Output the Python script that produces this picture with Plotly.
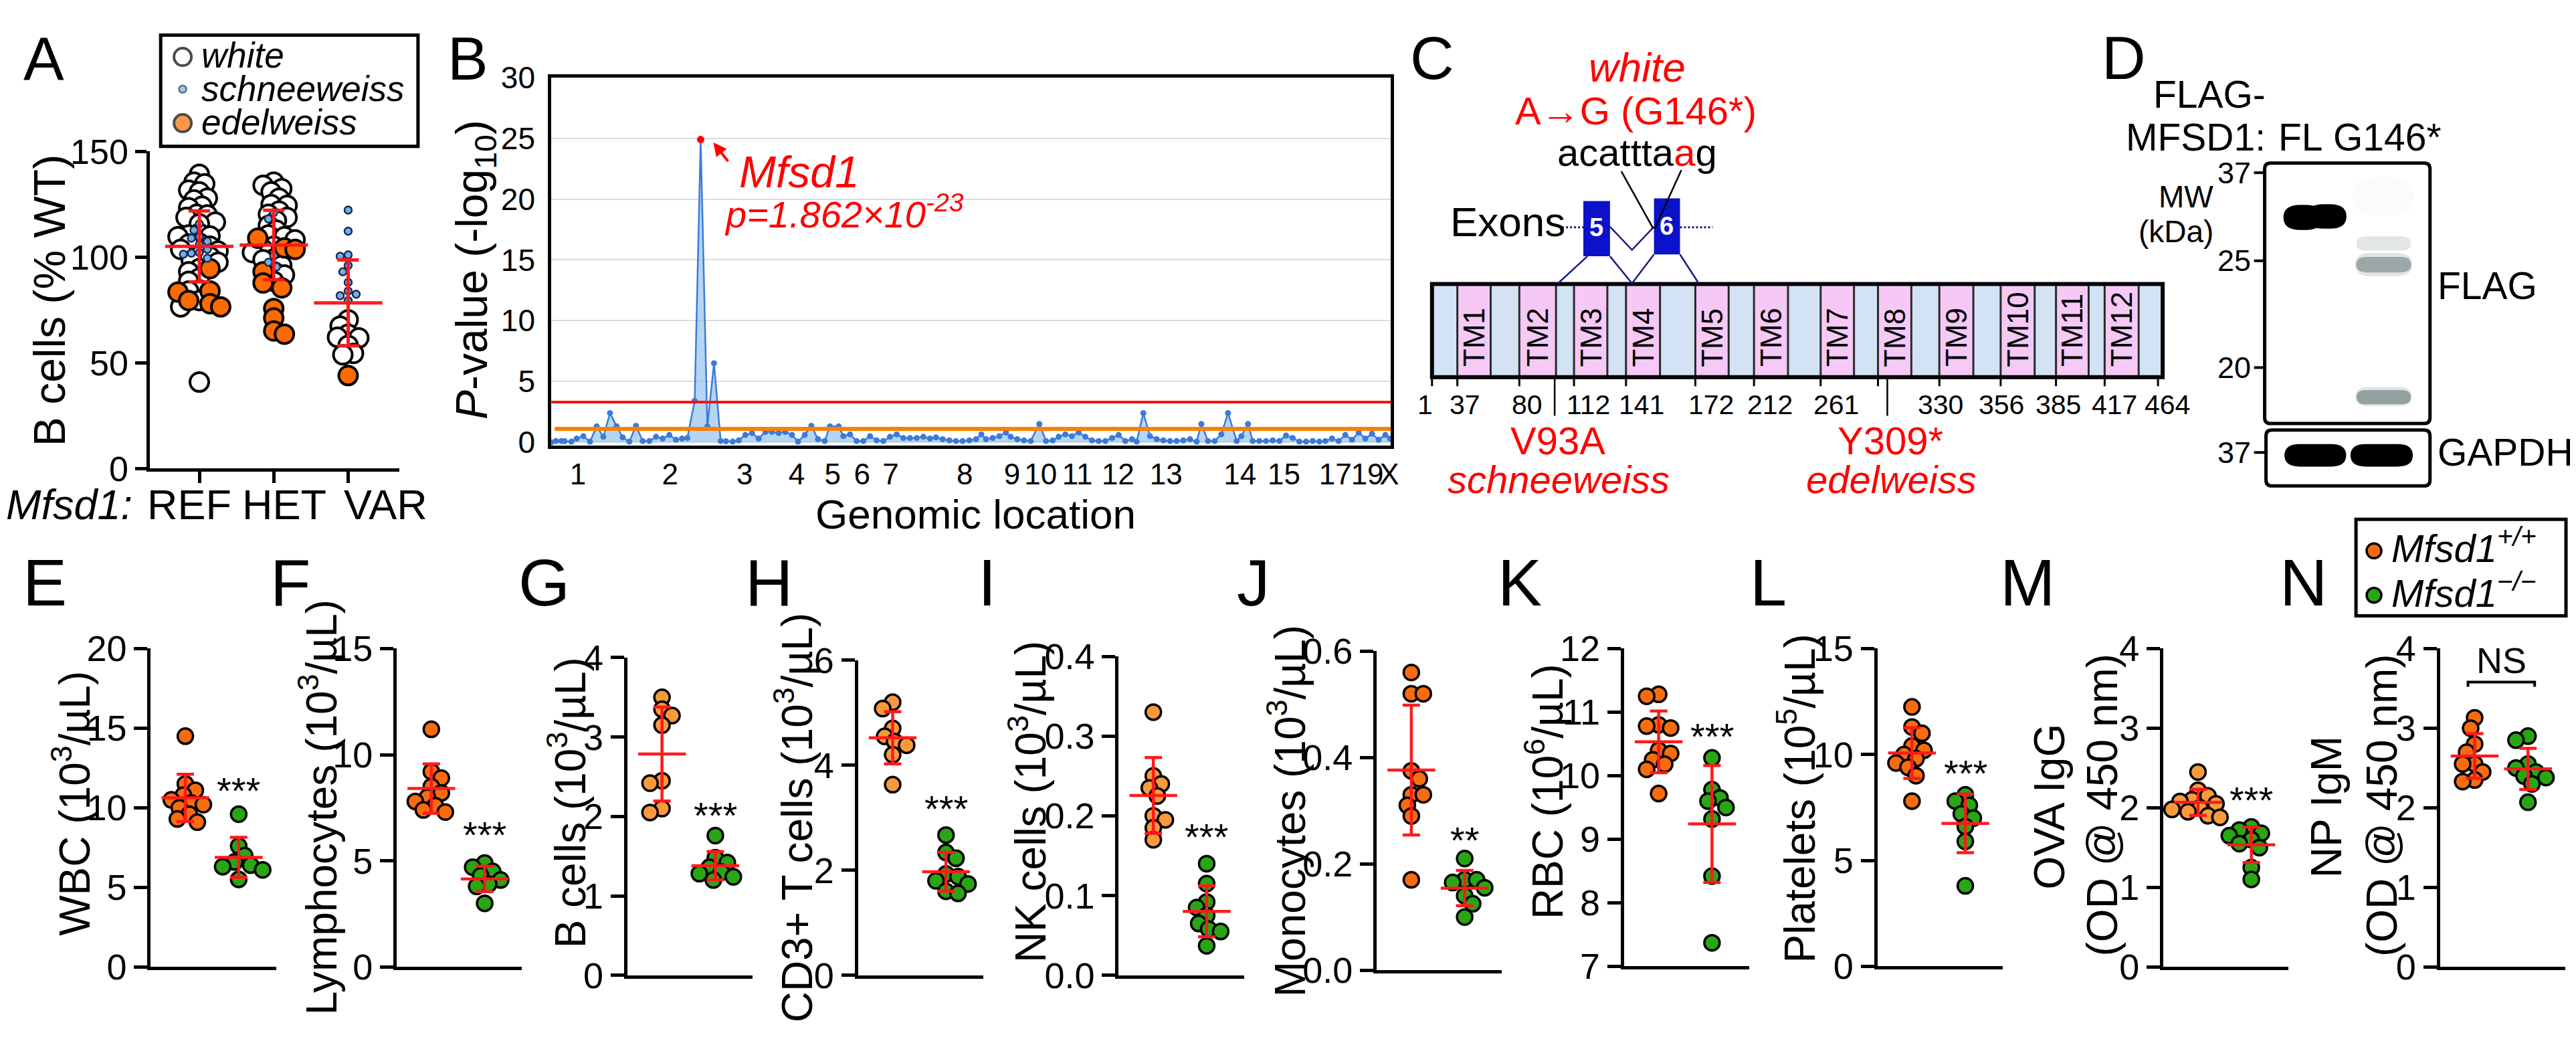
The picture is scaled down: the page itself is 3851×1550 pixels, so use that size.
import numpy as np
import plotly.graph_objects as go

W, H = 3851, 1550
FONT = "Liberation Sans, Arial, Helvetica, sans-serif"
NARROW = "Liberation Sans Narrow, Arial Narrow, Liberation Sans, Arial, sans-serif"
RED = "#FF1A1A"
GREEN = "#29A614"
ORANGE_DARK = "#F86C0E"
ORANGE_LIGHT = "#F89A3C"
ORANGE_A = "#FF6A00"
BLUE_A = "#6DB0F0"
BLUE_B = "#3B7BD8"
NAVY = "#1B1B8C"

# ======================= DATA =======================
# ---- Panel A : B cells (% WT) by Mfsd1 genotype ----
a_genotypes = ["REF", "HET", "VAR"]
a_white = {
    "REF": [139.2, 135.5, 134.7, 131.7, 130.9, 127.9, 127.1, 124.1, 123.4, 120.3, 120.0, 118.8,
            116.6, 115.8, 111.3, 110.5, 110.0, 109.7, 106.7, 106.2, 105.2, 103.7, 102.9, 100.7,
            100.2, 98.4, 97.6, 94.6, 93.1, 90.1, 88.6, 84.5, 84.0, 79.5, 76.5, 40.9],
    "HET": [135.5, 134.0, 132.4, 130.9, 127.9, 124.9, 124.5, 121.8, 120.3, 118.8, 117.3, 115.0,
            112.8, 110.5, 109.7, 108.2, 105.2, 103.7, 102.2, 99.2, 98.8, 96.1, 93.1, 91.6, 88.6],
    "VAR": [70.4, 67.4, 63.6, 62.1, 61.8, 58.3, 54.5, 53.8],
}
a_schneeweiss = {
    "REF": [115.8, 112.8, 109.7, 109.0, 107.5, 106.0, 103.7, 102.2, 101.9, 101.4, 99.5],
    "HET": [121.1, 118.1, 100.7, 97.6, 95.4],
    "VAR": [122.3, 112.3, 101.1, 100.4, 96.1, 93.1, 88.1, 84.0, 82.5, 81.8, 79.5],
}
a_edelweiss = {
    "REF": [94.6, 84.0, 83.5, 79.5, 78.0, 76.5],
    "HET": [109.0, 104.4, 103.7, 93.1, 87.8, 85.5, 75.7, 71.2, 65.1, 63.6],
    "VAR": [44.0],
}
a_mean = [105.1, 105.75, 78.35]
a_sd = [16.8, 16.45, 20.35]

# ---- Panel B : linkage scan (marker position, -log10 P) ----
b_markers = [
    (0, 0.0), (7, 0.1), (15, 0.1), (20, 0.08), (30, 0.05), (38, 0.3), (48, 0.5), (58, 0.05),
    (68, 1.3), (78, 0.45), (88, 2.4), (98, 1.3), (107, 0.4), (117, 0.05), (127, 1.35), (137, 0.1),
    (147, 0.1), (157, 0.45), (167, 0.3), (177, 0.6), (187, 0.2), (196, 0.3), (204, 0.35),
    (215, 3.4), (224, 24.9), (234, 1.3), (244, 6.5), (254, 0.1), (262, 0.08), (272, 0.05),
    (281, 0.15), (291, 0.6), (301, 0.75), (311, 0.3), (321, 0.85), (331, 0.85), (341, 0.75),
    (351, 0.85), (361, 0.6), (370, 0.05), (380, 0.6), (390, 1.35), (400, 0.25), (410, 0.1),
    (418, 1.3), (431, 1.3), (438, 0.5), (448, 0.65), (458, 0.1), (468, 0.1), (478, 0.5),
    (488, 0.15), (498, 0.1), (508, 0.45), (518, 0.65), (528, 0.35), (538, 0.35), (548, 0.35),
    (558, 0.45), (568, 0.3), (577, 0.4), (587, 0.25), (597, 0.15), (607, 0.1), (617, 0.1),
    (627, 0.15), (637, 0.25), (645, 0.65), (652, 0.25), (662, 0.35), (672, 0.5), (682, 0.8),
    (689, 0.45), (699, 0.25), (709, 0.15), (719, 0.1), (732, 1.5), (742, 0.1), (752, 0.15),
    (761, 0.45), (771, 0.65), (781, 0.5), (791, 0.8), (801, 0.45), (811, 0.15), (821, 0.1),
    (831, 0.1), (841, 0.35), (851, 0.6), (861, 0.1), (871, 0.25), (878, 0.05), (888, 2.4),
    (898, 0.5), (908, 0.25), (918, 0.15), (928, 0.1), (938, 0.1), (948, 0.15), (958, 0.25),
    (968, 0.05), (975, 1.5), (985, 0.1), (995, 0.1), (1005, 0.65), (1015, 2.4), (1028, 0.1),
    (1035, 0.5), (1045, 1.5), (1052, 0.1), (1062, 0.1), (1072, 0.1), (1082, 0.15), (1092, 0.1),
    (1102, 0.55), (1112, 0.35), (1122, 0.05), (1132, 0.05), (1142, 0.1), (1152, 0.05),
    (1161, 0.1), (1171, 0.3), (1181, 0.1), (1191, 0.6), (1201, 0.2), (1211, 0.8), (1221, 0.3),
    (1231, 0.7), (1241, 0.2), (1251, 0.6), (1258, 0.3),
]
b_pos = [p for p, _ in b_markers]
b_logp = [v for _, v in b_markers]
b_chrom_labels = ["1", "2", "3", "4", "5", "6", "7", "8", "9", "10", "11", "12", "13", "14", "15", "17", "19", "X"]
b_chrom_pos = [40, 178, 290, 368, 422, 466, 509, 620, 691, 734, 789, 850, 922, 1033, 1099, 1176, 1224, 1257]
b_yticks = [0, 5, 10, 15, 20, 25, 30]
b_significant = 3.3
b_suggestive = 1.1

# ---- Panel C : MFSD1 topology (schematic units along the bar) ----
c_tm_names = ["TM%d" % i for i in range(1, 13)]
c_tm_start = [38, 131, 213, 291, 395, 483, 583, 669, 761, 853, 936, 1009]
c_tm_end = [88, 186, 263, 342, 445, 534, 633, 719, 812, 904, 985, 1060]
c_bar_len = 1096
c_residues = [1, 37, 80, 112, 141, 172, 212, 261, 330, 356, 385, 417, 464]
c_residue_tick = [0, 38, 131, 213, 291, 395, 483, 583, 761, 853, 936, 1009, 1089]
c_residue_label = [-10, 49, 143, 235, 314, 419, 507, 606, 763, 854, 939, 1024, 1103]
c_extra_tick = [669]
c_mut_names = ["V93A", "Y309*"]
c_mut_alleles = ["schneeweiss", "edelweiss"]
c_mut_pos = [184, 683]

# ---- Panel D : western blot ----
d_lanes = ["FL", "G146*"]
d_mw = ["37", "25", "20"]
d_gapdh_mw = ["37"]

# ---- Panels E-N : Mfsd1+/+ (orange) vs Mfsd1-/- (green) ----
E_o = [14.5, 11.5, 11.1, 10.8, 10.5, 10.3, 10.2, 10.0, 9.6, 9.3, 9.1]
E_g = [9.6, 7.6, 7.0, 6.6, 6.4, 6.3, 6.1, 5.5]
F_o = [11.2, 9.2, 8.9, 8.5, 8.2, 8.0, 7.8, 7.6, 7.4, 7.3]
F_g = [4.9, 4.7, 4.5, 4.3, 4.1, 3.9, 3.8, 3.0]
G_o = [3.5, 3.35, 3.27, 3.15, 2.45, 2.42, 2.1, 2.05]
G_g = [1.76, 1.48, 1.42, 1.36, 1.3, 1.28, 1.24, 1.2]
H_o = [5.2, 5.08, 4.7, 4.55, 4.45, 4.38, 4.2, 3.63]
H_g = [2.67, 2.34, 2.23, 1.93, 1.88, 1.8, 1.74, 1.6, 1.56]
I_o = [0.33, 0.25, 0.24, 0.235, 0.225, 0.2, 0.195, 0.185, 0.17]
I_g = [0.14, 0.115, 0.092, 0.085, 0.075, 0.065, 0.058, 0.055, 0.037]
J_o = [0.56, 0.52, 0.52, 0.375, 0.36, 0.33, 0.33, 0.31, 0.29, 0.17]
J_g = [0.21, 0.17, 0.17, 0.165, 0.155, 0.14, 0.125, 0.1]
K_o = [11.28, 11.25, 10.8, 10.78, 10.75, 10.4, 10.35, 10.25, 10.18, 10.1, 9.72]
K_g = [10.28, 9.78, 9.65, 9.6, 9.5, 9.32, 8.42, 7.37]
L_o = [12.25, 11.3, 11.0, 10.4, 10.2, 10.0, 9.8, 9.6, 9.4, 9.0, 7.8]
L_g = [8.1, 7.8, 7.6, 7.2, 7.0, 6.6, 5.9, 3.8]
M_o = [2.45, 2.22, 2.15, 2.1, 2.08, 2.05, 2.0, 1.98, 1.95, 1.9, 1.88]
M_g = [1.76, 1.72, 1.68, 1.65, 1.6, 1.55, 1.5, 1.25, 1.1]
N_o = [3.13, 3.0, 2.8, 2.7, 2.55, 2.55, 2.45, 2.35, 2.33]
N_g = [2.9, 2.85, 2.55, 2.5, 2.45, 2.4, 2.38, 2.3, 2.07]
sig_labels = ["***", "***", "***", "***", "***", "**", "***", "***", "***", "NS"]
sig_y = [11.6, 6.6, 2.12, 3.33, 0.184, 0.26, 10.75, 9.5, 2.2, 3.85]

# ======================= FIGURE =======================
fig = go.Figure()
layout = dict(width=W, height=H, margin=dict(l=0, r=0, t=0, b=0), paper_bgcolor="white",
              plot_bgcolor="rgba(0,0,0,0)", showlegend=False,
              font=dict(family=FONT, color="black"))
ann, shp = [], []
axn = [0]


def axes(x0, x1, ytop, ybot, xrange, yrange, xkw=None, ykw=None):
    axn[0] += 1
    n = axn[0]
    s = "" if n == 1 else str(n)
    base = dict(showgrid=False, zeroline=False, fixedrange=True, showline=False,
                ticks="", showticklabels=False)
    xa = dict(base, domain=[x0 / W, x1 / W], range=xrange, anchor="y" + s)
    ya = dict(base, domain=[1 - ybot / H, 1 - ytop / H], range=yrange, anchor="x" + s)
    if xkw:
        xa.update(xkw)
    if ykw:
        ya.update(ykw)
    layout["xaxis" + s] = xa
    layout["yaxis" + s] = ya
    return "x" + s, "y" + s


def txt(x, y, s, size, color="black", xa="center", ya="middle", angle=0, family=FONT):
    ann.append(dict(xref="paper", yref="paper", x=x / W, y=1 - y / H, text=s, showarrow=False,
                    font=dict(family=family, size=size, color=color), xanchor=xa, yanchor=ya,
                    textangle=angle, borderpad=0))


def swarm_offsets(vals, ppu_y, sep, step):
    idx = sorted(range(len(vals)), key=lambda i: -vals[i])
    placed, out = [], [0.0] * len(vals)
    for n, i in enumerate(idx):
        y = vals[i] * ppu_y
        k, chosen = 0, None
        while chosen is None:
            if k == 0:
                cands = [0.0]
            else:
                cands = [k * step, -k * step] if n % 2 == 0 else [-k * step, k * step]
            for c in cands:
                if all((c - px) ** 2 + (y - py) ** 2 >= sep * sep for px, py in placed):
                    chosen = c
                    break
            k += 1
        out[i] = chosen
        placed.append((chosen, y))
    return out


tickfont = lambda s, fam=FONT: dict(size=s, family=fam, color="black")

# ---------------- Panel A ----------------
A_X0, A_X1, A_TOP, A_BOT = 217, 591, 196, 689
xa_, ya_ = axes(A_X0, A_X1, A_TOP, A_BOT, [-0.663, 2.688], [0, 150],
                xkw=dict(showline=True, linewidth=5, linecolor="black", ticks="outside", ticklen=17,
                         tickwidth=5, tickcolor="black", tickvals=[0, 1, 2]),
                ykw=dict(showline=True, linewidth=5, linecolor="black", ticks="outside", ticklen=17,
                         tickwidth=5, tickcolor="black", tickvals=[0, 50, 100, 150],
                         showticklabels=True, tickfont=tickfont(52)))
a_ppu_y = (A_BOT - A_TOP) / 150.0
a_ppu_x = (A_X1 - A_X0) / (2.688 + 0.663)
for gi, g in enumerate(a_genotypes):
    comb = a_white[g] + a_edelweiss[g]
    offs = swarm_offsets(comb, a_ppu_y, 14, 4)
    nw = len(a_white[g])
    fig.add_trace(go.Scatter(x=[gi + o / a_ppu_x for o in offs[:nw]], y=a_white[g], mode="markers",
                             marker=dict(size=28, color="white", line=dict(color="black", width=4)),
                             xaxis=xa_, yaxis=ya_, hoverinfo="skip"))
    fig.add_trace(go.Scatter(x=[gi + o / a_ppu_x for o in offs[nw:]], y=a_edelweiss[g], mode="markers",
                             marker=dict(size=28, color=ORANGE_A, line=dict(color="black", width=4)),
                             xaxis=xa_, yaxis=ya_, hoverinfo="skip"))
for gi, g in enumerate(a_genotypes):
    offs = swarm_offsets(a_schneeweiss[g], a_ppu_y, 12, 4)
    fig.add_trace(go.Scatter(x=[gi + o / a_ppu_x for o in offs], y=a_schneeweiss[g], mode="markers",
                             marker=dict(size=11, color=BLUE_A, line=dict(color="#1c2a4a", width=2.5)),
                             xaxis=xa_, yaxis=ya_, hoverinfo="skip"))
fig.add_trace(go.Scatter(x=[0, 1, 2], y=a_mean, mode="markers",
                         marker=dict(symbol="line-ew", size=73, color=RED, line=dict(color=RED, width=5)),
                         error_y=dict(type="data", array=a_sd, visible=True, color=RED, thickness=5, width=16),
                         xaxis=xa_, yaxis=ya_, hoverinfo="skip"))
txt(67, 428, "B cells (% WT)", 66, angle=-90)
txt(192, 745, "<i>Mfsd1:</i>", 63, xa="right")
for lab, cxp in zip(a_genotypes, [276, 418, 570]):
    txt(cxp, 745, lab, 63)

# ---------------- Panel B ----------------
xb, yb = axes(819, 2078, 81, 653, [0, 1259], [-0.26, 30],
              xkw=dict(showline=True, mirror=True, linewidth=5, linecolor="black",
                       tickvals=b_chrom_pos, ticktext=b_chrom_labels, showticklabels=True,
                       tickangle=0, tickfont=tickfont(44, NARROW)),
              ykw=dict(showline=True, mirror=True, linewidth=5, linecolor="black", showgrid=True,
                       gridcolor="#D6DDE0", gridwidth=2, tickvals=b_yticks, showticklabels=True,
                       tickfont=tickfont(46, NARROW), ticks="outside", ticklen=10,
                       tickcolor="rgba(0,0,0,0)"))
fig.add_trace(go.Scatter(x=b_pos, y=b_logp, mode="lines+markers", fill="tozeroy",
                         fillcolor="rgba(150,195,236,0.7)", line=dict(color=BLUE_B, width=2.5),
                         marker=dict(size=9, color=BLUE_B), xaxis=xb, yaxis=yb, hoverinfo="skip"))
ipk = int(np.argmax(b_logp))
fig.add_trace(go.Scatter(x=[b_pos[ipk]], y=[b_logp[ipk]], mode="markers",
                         marker=dict(size=11, color="#FF0000"), xaxis=xb, yaxis=yb, hoverinfo="skip"))
shp.append(dict(type="line", xref=xb + " domain", yref=yb, x0=0, x1=1, y0=b_significant, y1=b_significant,
                line=dict(color="#FF1010", width=4)))
shp.append(dict(type="line", xref=xb + " domain", yref=yb, x0=0.004, x1=1, y0=b_suggestive, y1=b_suggestive,
                line=dict(color="#FF7F00", width=6)))
txt(705, 380, "<i>P</i>-value (-log<sub>10</sub>)", 66, angle=-90)
txt(1455, 760, "Genomic location", 62)
ann.append(dict(xref="paper", yref="paper", x=1062 / W, y=1 - 182 / H, ax=25, ay=32, text=" ",
                showarrow=True, arrowhead=2, arrowsize=1, arrowwidth=4, arrowcolor="#FF0000", standoff=0))
txt(1100, 228, "<i>Mfsd1</i>", 66, color="#FF0000", xa="left")
txt(1078, 328, "<i>p=1.862×10<sup>-23</sup></i>", 56, color="#FF0000", xa="left", ya="bottom")

# ---------------- Overlay axes (pixel coordinates) for schematics ----------------
xo, yo = axes(0, W, 0, H, [0, W], [H, 0])


def rect(x0, y0, x1, y1, fill=None, lc=None, lw=0, layer="above"):
    d = dict(type="rect", xref=xo, yref=yo, x0=x0, y0=y0, x1=x1, y1=y1, layer=layer,
             line=dict(color=lc or "rgba(0,0,0,0)", width=lw))
    if fill:
        d["fillcolor"] = fill
    shp.append(d)


def line(x0, y0, x1, y1, color="black", width=2, dash=None):
    ld = dict(color=color, width=width)
    if dash:
        ld["dash"] = dash
    shp.append(dict(type="line", xref=xo, yref=yo, x0=x0, y0=y0, x1=x1, y1=y1, line=ld))


def path(d, fill=None, lc="black", lw=0, opacity=1.0):
    s = dict(type="path", xref=xo, yref=yo, path=d, line=dict(color=lc, width=lw), opacity=opacity)
    if fill:
        s["fillcolor"] = fill
    shp.append(s)


def rounded(x0, y0, x1, y1, r):
    return ("M %f,%f L %f,%f Q %f,%f %f,%f L %f,%f Q %f,%f %f,%f L %f,%f Q %f,%f %f,%f L %f,%f Q %f,%f %f,%f Z"
            % (x0 + r, y0, x1 - r, y0, x1, y0, x1, y0 + r, x1, y1 - r, x1, y1, x1 - r, y1,
               x0 + r, y1, x0, y1, x0, y1 - r, x0, y0 + r, x0, y0, x0 + r, y0))


def pill(x0, y0, x1, y1):
    r = (y1 - y0) / 2.0
    m = (y0 + y1) / 2.0
    return ("M %f,%f L %f,%f Q %f,%f %f,%f Q %f,%f %f,%f L %f,%f Q %f,%f %f,%f Q %f,%f %f,%f Z"
            % (x0 + r, y0, x1 - r, y0, x1 + r * 0.3, y0, x1 + r * 0.3, m, x1 + r * 0.3, y1, x1 - r, y1,
               x0 + r, y1, x0 - r * 0.3, y1, x0 - r * 0.3, m, x0 - r * 0.3, y0, x0 + r, y0))


# ---- Panel A legend ----
rect(233, 15, 619, 188, lc="black", lw=5)
fig.add_trace(go.Scatter(x=[266, 266, 266], y=[49, 99, 152], mode="markers",
                         marker=dict(size=[26, 11, 26], color=["white", BLUE_A, ORANGE_A],
                                     line=dict(color=["black", "#1c2a4a", "black"], width=[4, 2.5, 4])),
                         xaxis=xo, yaxis=yo, hoverinfo="skip"))
for lab, yy in zip(["white", "schneeweiss", "edelweiss"], [46, 98, 150]):
    txt(293, yy, "<i>%s</i>" % lab, 53, xa="left")

# ---- Panel C ----
C_X0, C_TOP, C_BOT = 2140, 402, 547
rect(C_X0, C_TOP, C_X0 + c_bar_len, C_BOT, fill="#D3E2F4", lc="#2a2a2a", lw=3)
for s, e, nm in zip(c_tm_start, c_tm_end, c_tm_names):
    rect(C_X0 + s, C_TOP, C_X0 + e, C_BOT, fill="#F5C8F5", lc="#2a2a2a", lw=3)
    txt(C_X0 + (s + e) / 2.0, 532, nm, 44, ya="bottom", angle=-90)
rect(C_X0, C_TOP, C_X0 + c_bar_len, C_BOT, lc="black", lw=6)
for p in c_residue_tick + c_extra_tick:
    line(C_X0 + p, C_BOT, C_X0 + p, C_BOT + 14, width=3)
for r, lp in zip(c_residues, c_residue_label):
    txt(C_X0 + lp, 590, str(r), 41, family=NARROW)
for p, nm, al in zip(c_mut_pos, c_mut_names, c_mut_alleles):
    line(C_X0 + p, C_BOT, C_X0 + p, 607, width=2.5)
    txt(C_X0 + p + 5, 645, nm, 58, color="#FF0000", family=NARROW)
    txt(C_X0 + p + 6, 706, "<i>%s</i>" % al, 58, color="#FF0000", family=NARROW)
# exons
rect(2367, 273, 2407, 359, fill="#0B12C9")
rect(2473, 269, 2512, 356, fill="#0B12C9")
txt(2387, 314, "<b>5</b>", 38, color="white")
txt(2492, 312, "<b>6</b>", 38, color="white")
line(2335, 314, 2367, 314, color=NAVY, width=3, dash="dot")
line(2512, 314, 2561, 314, color=NAVY, width=3, dash="dot")
path("M 2407,313 L 2440,349 L 2473,313", lc=NAVY, lw=2.5)
line(2373, 359, 2329, 401, color=NAVY, width=2.5)
line(2407, 359, 2440, 401, color=NAVY, width=2.5)
line(2473, 356, 2440, 401, color=NAVY, width=2.5)
line(2512, 356, 2540, 401, color=NAVY, width=2.5)
line(2424, 227, 2472, 316, color="black", width=2.5)
line(2514, 225, 2474, 316, color="black", width=2.5)
txt(2166, 305, "Exons", 62, xa="left", family=NARROW)
txt(2448, 65, "<i>white</i>", 62, color="#FF0000", family=NARROW)
txt(2446, 133, "A→G (G146*)", 58, color="#FF0000", family=NARROW)
txt(2448, 197, "acattta<span style='color:#FF0000'>a</span>g", 58, family=NARROW)

# ---- Panel D ----
path(rounded(3389, 214, 3637, 619, 9), fill="white", lc="black", lw=5)
path(rounded(3391, 629, 3637, 716, 9), fill="white", lc="black", lw=5)
path(pill(3423, 279, 3470, 318), fill="black")
path(pill(3458, 278, 3506, 316), fill="black")
for (y0, y1, col, op) in [(236, 296, "#D5DADA", 0.10), (328, 350, "#AEB8B8", 0.35),
                          (354, 390, "#B3BDBD", 0.40), (360, 384, "#7F8E8E", 0.70),
                          (562, 592, "#B3BDBD", 0.40), (567, 589, "#7B8A8A", 0.75)]:
    path(pill(3530, y0, 3605, y1), fill=col, opacity=op)
path(pill(3424, 651, 3506, 686), fill="black")
path(pill(3523, 651, 3606, 686), fill="black")
for lab, yy in zip(d_mw, [229, 366, 532]):
    line(3373, yy, 3389, yy, width=4)
    txt(3369, yy, lab, 45, xa="right")
for lab, yy in zip(d_gapdh_mw, [664]):
    line(3373, yy, 3391, yy, width=4)
    txt(3369, yy, lab, 45, xa="right")
txt(3391, 107, "FLAG-", 57, xa="right")
txt(3391, 174, "MFSD1:", 57, xa="right")
for lab, xx in zip(d_lanes, [3443, 3573]):
    txt(xx, 174, lab, 57)
txt(3313, 266, "MW", 46, xa="right", family=NARROW)
txt(3313, 320, "(kDa)", 46, xa="right", family=NARROW)
txt(3647, 405, "FLAG", 57, xa="left")
txt(3647, 664, "GAPDH", 57, xa="left")

# ---- Panel N legend ----
rect(3526, 768, 3841, 918, lc="black", lw=5)
fig.add_trace(go.Scatter(x=[3553, 3553], y=[817, 886], mode="markers",
                         marker=dict(size=22, color=[ORANGE_DARK, GREEN], line=dict(color="black", width=3.5)),
                         xaxis=xo, yaxis=yo, hoverinfo="skip"))
txt(3578, 848, "<i>Mfsd1<sup>+/+</sup></i>", 58, xa="left", ya="bottom")
txt(3578, 917, "<i>Mfsd1<sup>−/−</sup></i>", 58, xa="left", ya="bottom")

# ---------------- Panels E-N ----------------
bottom = [
    dict(L="E", lx=59, ax=218, top=969, bot=1464, yr=[0, 20], tv=[0, 5, 10, 15, 20], fmt="",
         title=["WBC (10<sup>3</sup>/µL)"], tpos=[(100, 1210)], o=E_o, g=E_g, oc=ORANGE_DARK),
    dict(L="F", lx=427, ax=587, top=969, bot=1464, yr=[0, 15], tv=[0, 5, 10, 15], fmt="",
         title=["Lymphocytes (10<sup>3</sup>/µL)"], tpos=[(470, 1216)], o=F_o, g=F_g, oc=ORANGE_DARK),
    dict(L="G", lx=808, ax=933, top=983, bot=1477, yr=[0, 4], tv=[0, 1, 2, 3, 4], fmt="",
         title=["B cells (10<sup>3</sup>/µL)"], tpos=[(843, 1209)], o=G_o, g=G_g, oc=ORANGE_LIGHT),
    dict(L="H", lx=1146, ax=1279, top=987, bot=1477, yr=[0, 6], tv=[0, 2, 4, 6], fmt="",
         title=["CD3+ T cells (10<sup>3</sup>/µL)"], tpos=[(1183, 1232)], o=H_o, g=H_g, oc=ORANGE_LIGHT),
    dict(L="I", lx=1473, ax=1670, top=981, bot=1477, yr=[0, 0.4], tv=[0, 0.1, 0.2, 0.3, 0.4], fmt=".1f",
         title=["NK cells (10<sup>3</sup>/µL)"], tpos=[(1534, 1207)], o=I_o, g=I_g, oc=ORANGE_LIGHT),
    dict(L="J", lx=1872, ax=2057, top=973, bot=1469, yr=[0, 0.6], tv=[0, 0.2, 0.4, 0.6], fmt=".1f",
         title=["Monocytes (10<sup>3</sup>/µL)"], tpos=[(1922, 1222)], o=J_o, g=J_g, oc=ORANGE_DARK),
    dict(L="K", lx=2272, ax=2428, top=969, bot=1463, yr=[7, 12], tv=[7, 8, 9, 10, 11, 12], fmt="",
         title=["RBC (10<sup>6</sup>/µL)"], tpos=[(2309, 1191)], o=K_o, g=K_g, oc=ORANGE_DARK),
    dict(L="L", lx=2644, ax=2808, top=969, bot=1463, yr=[0, 15], tv=[0, 5, 10, 15], fmt="",
         title=["Platelets (10<sup>5</sup>/µL)"], tpos=[(2688, 1202)], o=L_o, g=L_g, oc=ORANGE_DARK),
    dict(L="M", lx=3033, ax=3237, top=969, bot=1464, yr=[0, 4], tv=[0, 1, 2, 3, 4], fmt="",
         title=["OVA IgG", "(OD @ 450 nm)"], tpos=[(3066, 1215), (3146, 1212)], o=M_o, g=M_g, oc=ORANGE_LIGHT),
    dict(L="N", lx=3448, ax=3652, top=969, bot=1464, yr=[0, 4], tv=[0, 1, 2, 3, 4], fmt="",
         title=["NP IgM", "(OD @ 450 nm)"], tpos=[(3482, 1215), (3565, 1212)], o=N_o, g=N_g, oc=ORANGE_DARK),
]
XR = [-0.65, 1.70]
PW = 188
for k, P in enumerate(bottom):
    xr_, yr_ = axes(P["ax"], P["ax"] + PW, P["top"], P["bot"], XR, P["yr"],
                    xkw=dict(showline=True, linewidth=5, linecolor="black"),
                    ykw=dict(showline=True, linewidth=5, linecolor="black", ticks="outside", ticklen=20,
                             tickwidth=5, tickcolor="black", tickvals=P["tv"], tickformat=P["fmt"],
                             showticklabels=True, tickfont=tickfont(54, NARROW)))
    ppu_y = (P["bot"] - P["top"]) / float(P["yr"][1] - P["yr"][0])
    ppu_x = PW / (XR[1] - XR[0])
    for gi, (vals, col) in enumerate([(P["o"], P["oc"]), (P["g"], GREEN)]):
        rel = [v - P["yr"][0] for v in vals]
        offs = swarm_offsets(rel, ppu_y, 17, 3)
        fig.add_trace(go.Scatter(x=[gi + o / ppu_x for o in offs], y=vals, mode="markers",
                                 marker=dict(size=23, color=col, line=dict(color="black", width=3.5)),
                                 xaxis=xr_, yaxis=yr_, hoverinfo="skip"))
    means = [float(np.mean(P["o"])), float(np.mean(P["g"]))]
    sds = [float(np.std(P["o"], ddof=1)), float(np.std(P["g"], ddof=1))]
    fig.add_trace(go.Scatter(x=[0, 1], y=means, mode="markers",
                             marker=dict(symbol="line-ew", size=51, color=RED, line=dict(color=RED, width=4.5)),
                             error_y=dict(type="data", array=sds, visible=True, color=RED, thickness=4.5, width=13),
                             xaxis=xr_, yaxis=yr_, hoverinfo="skip"))
    for t, (tx, ty) in zip(P["title"], P["tpos"]):
        txt(tx, ty, t, 64, angle=-90)
    txt(P["lx"], 866, P["L"], 99)
    lab = sig_labels[k]
    if lab == "NS":
        ann.append(dict(xref=xr_, yref=yr_, x=0.5, y=sig_y[k], text="NS", showarrow=False,
                        font=dict(family=FONT, size=54, color="black"), xanchor="center", yanchor="middle"))
        shp.append(dict(type="path", xref=xr_, yref=yr_,
                        path="M -0.125,3.52 L -0.125,3.58 L 1.125,3.58 L 1.125,3.52",
                        line=dict(color="black", width=4)))
    else:
        ann.append(dict(xref=xr_, yref=yr_, x=1, y=sig_y[k], text=lab, showarrow=False, yshift=-12,
                        font=dict(family=FONT, size=56, color="black"), xanchor="center", yanchor="middle"))

# panel letters for top row
for L, (lx, ly) in zip("ABCD", [(58, 52), (694, 52), (2140, 50), (3178, 50)]):
    txt(lx, ly, L, 91)

layout["annotations"] = ann
layout["shapes"] = shp
fig.update_layout(**layout)
fig.write_html("out.html")
